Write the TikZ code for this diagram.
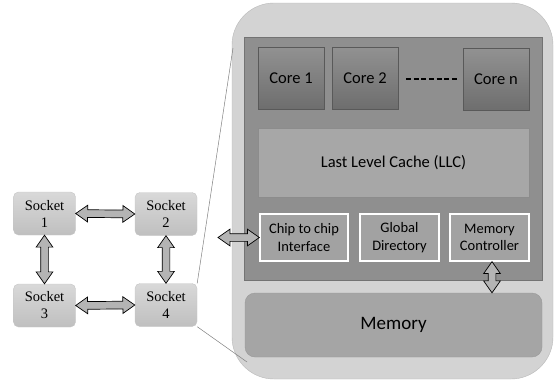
\documentclass[tikz,border=0pt]{standalone}
\usepackage{fontspec}
\setmainfont{Carlito}
\newfontfamily\socketfont{Liberation Serif}
\usetikzlibrary{shapes.arrows,calc}

\definecolor{outergray}{HTML}{D3D3D3}
\definecolor{chipgray}{HTML}{8F8F8F}
\definecolor{llcgray}{HTML}{A7A7A7}
\definecolor{boxgray}{HTML}{A2A2A2}
\definecolor{memgray}{HTML}{A5A5A5}
\definecolor{arrgray}{HTML}{B4B4B4}

\newcommand\dblconn[2]{%
  \path let \p1=(#1), \p2=(#2),
    \n1={veclen(\x2-\x1,\y2-\y1)}, \n2={atan2(\y2-\y1,\x2-\x1)} in
    node[dblarr, minimum height=\n1, rotate=\n2] at ($(#1)!0.5!(#2)$) {};}

\begin{document}
\begin{tikzpicture}[x=1pt,y=-1pt,
  socket/.style={rectangle, rounded corners=5pt, draw=gray!45, top color=gray!30,
    bottom color=gray!50, minimum width=62pt, minimum height=43pt, align=center,
    font=\socketfont\fontsize{14.5}{17}\selectfont, inner sep=0pt},
  corebox/.style={rectangle, draw=black!65, top color=black!43, bottom color=black!57,
    minimum width=66pt, minimum height=62pt, font=\fontsize{16.5}{19}\selectfont},
  unitbox/.style={rectangle, draw=white, line width=1.3pt, fill=boxgray,
    minimum width=79pt, minimum height=47pt, align=center, inner sep=1pt,
    font=\fontsize{14.5}{17.5}\selectfont},
  dblarr/.style={double arrow, draw=black, fill=arrgray, inner xsep=0pt,
    inner ysep=3.5pt, double arrow head extend=4.5pt, double arrow tip angle=70,
    line width=0.7pt}]
  \useasboundingbox (0,0) rectangle (556,383);

  % sockets
  \node[socket] (s1) at (44.5,213.5) {Socket\\1};
  \node[socket] (s2) at (166,214) {Socket\\2};
  \node[socket] (s3) at (44.5,305.5) {Socket\\3};
  \node[socket] (s4) at (166,305) {Socket\\4};

  \dblconn{s1.east}{s2.west}
  \dblconn{s3.east}{s4.west}
  \dblconn{s1.south}{s3.north}
  \dblconn{s2.south}{s4.north}

  % zoom into socket 4
  \node[rectangle, rounded corners=42pt, draw=gray!55, fill=outergray,
    minimum width=321pt, minimum height=376pt] (socket) at (392.5,191) {};
  \coordinate (zoomtop) at (233,48);
  \coordinate (zoombot) at (247,362);
  \draw[gray, line width=0.5pt] (s4.north east) -- (zoomtop);
  \draw[gray, line width=0.5pt] (s4.south east) -- (zoombot);

  \node[rectangle, draw=black!55, fill=chipgray, minimum width=298pt,
    minimum height=243pt] (chip) at (393,158.5) {};

  \node[corebox] (c1) at (291,78) {Core 1};
  \node[corebox] (c2) at (365,78) {Core 2};
  \node[corebox] (cn) at (496,79.5) {Core n};
  \draw[line width=1.6pt, dash pattern=on 5pt off 2.6pt] (c2.east) ++(8,1) coordinate (d1)
    -- ($(cn.west)+(-5,-0.5)$);

  \node[rectangle, draw=black!45, fill=llcgray, minimum width=271pt,
    minimum height=69pt, font=\fontsize{16.5}{19}\selectfont] (llc) at (393.5,162.5)
    {Last Level Cache (LLC)};

  \node[unitbox, minimum width=88pt] (c2c) at (304,237.5) {Chip to chip\\Interface};
  \node[unitbox] (gd) at (399.5,237.5) {Global\\Directory};
  \node[unitbox] (mc) at (489.5,237.5) {Memory\\Controller};

  \node[rectangle, rounded corners=10pt, draw=black!40, fill=memgray,
    minimum width=297pt, minimum height=64pt, font=\fontsize{19}{22}\selectfont]
    (mem) at (393.5,325) {Memory};

  \coordinate (link) at (218,237.5);
  \dblconn{link}{c2c.west}
  \dblconn{mc.south-|492,0}{mem.north-|492,0}
\end{tikzpicture}
\end{document}
